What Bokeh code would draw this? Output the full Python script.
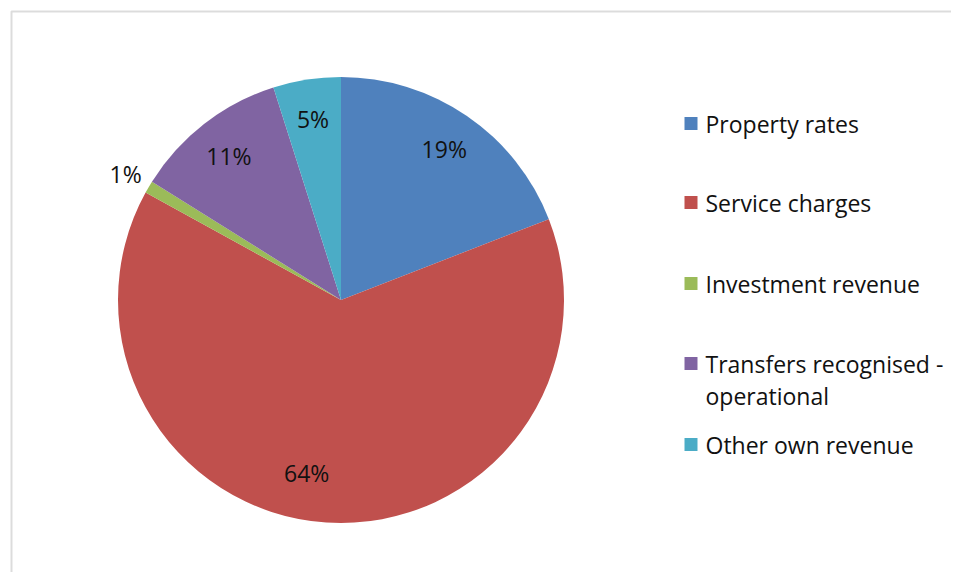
import math
from bokeh.plotting import figure
from bokeh.models import Range1d, BoxAnnotation, ColumnDataSource
from bokeh.core.properties import value
from bokeh.embed import file_html
from bokeh.resources import INLINE

# ---- data ----
categories = ["Property rates", "Service charges", "Investment revenue",
              "Transfers recognised - operational", "Other own revenue"]
legend_lines = [["Property rates"], ["Service charges"], ["Investment revenue"],
                ["Transfers recognised -", "operational"], ["Other own revenue"]]
shares = [19.1, 63.9, 0.9, 11.2, 4.9]
colors = ["#4F81BD", "#C0504D", "#9BBB59", "#8064A2", "#4BACC6"]

FONT = "Open Sans"
FS = "23px"

# screen-pixel-like coordinates: x = screen x, y = -screen y
p = figure(width=951, height=572, output_backend="svg", toolbar_location=None,
           x_range=Range1d(0, 951), y_range=Range1d(-572, 0),
           min_border=0, outline_line_color=None)
p.axis.visible = False
p.grid.visible = False
p.background_fill_color = "white"
p.border_fill_color = "white"

# chart frame (only left and top edges are inside the window)
p.add_layout(BoxAnnotation(left=11, top=-11, right=3000, bottom=-3000,
                           fill_alpha=0, line_color="#8a8a8a", line_width=2))

cx, cy, r = 340.5, -299.5, 223.0
total = sum(shares)
starts, ends, mids = [], [], []
acc = 0.0
for v in shares:
    a0 = math.pi / 2 - 2 * math.pi * acc / total
    acc += v
    a1 = math.pi / 2 - 2 * math.pi * acc / total
    starts.append(a0)
    ends.append(a1)
    mids.append((a0 + a1) / 2)

src = ColumnDataSource(dict(start=starts, end=ends, color=colors, cat=categories))
p.wedge(x=cx, y=cy, radius=r, start_angle="start", end_angle="end",
        direction="clock", fill_color="color", line_color=None, source=src)

# data labels (Excel "best fit": small slices outside, big slice nudged)
lx, ly, lt = [], [], []
for v, m in zip(shares, mids):
    frac = v / total
    if frac < 0.02:
        f, dm = 1.12, 0.0
    elif frac > 0.5:
        f, dm = 0.79, -0.13
    else:
        f, dm = 0.82, 0.0
    lx.append(cx + f * r * math.cos(m + dm))
    ly.append(cy + f * r * math.sin(m + dm))
    lt.append(f"{round(frac * 100)}%")
p.text(x=lx, y=ly, text=lt, text_align="center", text_baseline="middle",
       text_font=value(FONT), text_font_size=FS, text_color="#111111")

# legend
sq_x, tx = 690.5, 705
ys = [-123, -202, -283, -363, -444]
line_h = 32
for name, col, y in zip(legend_lines, colors, ys):
    p.scatter(x=[sq_x], y=[y], marker="square", size=13, fill_color=col,
              line_color=None)
    for k, t in enumerate(name):
        p.text(x=[tx], y=[y - k * line_h], text=[t], text_align="left",
               text_baseline="middle", text_font=value(FONT),
               text_font_size=FS, text_color="#111111")

open("out.html", "w").write(file_html(p, INLINE))
